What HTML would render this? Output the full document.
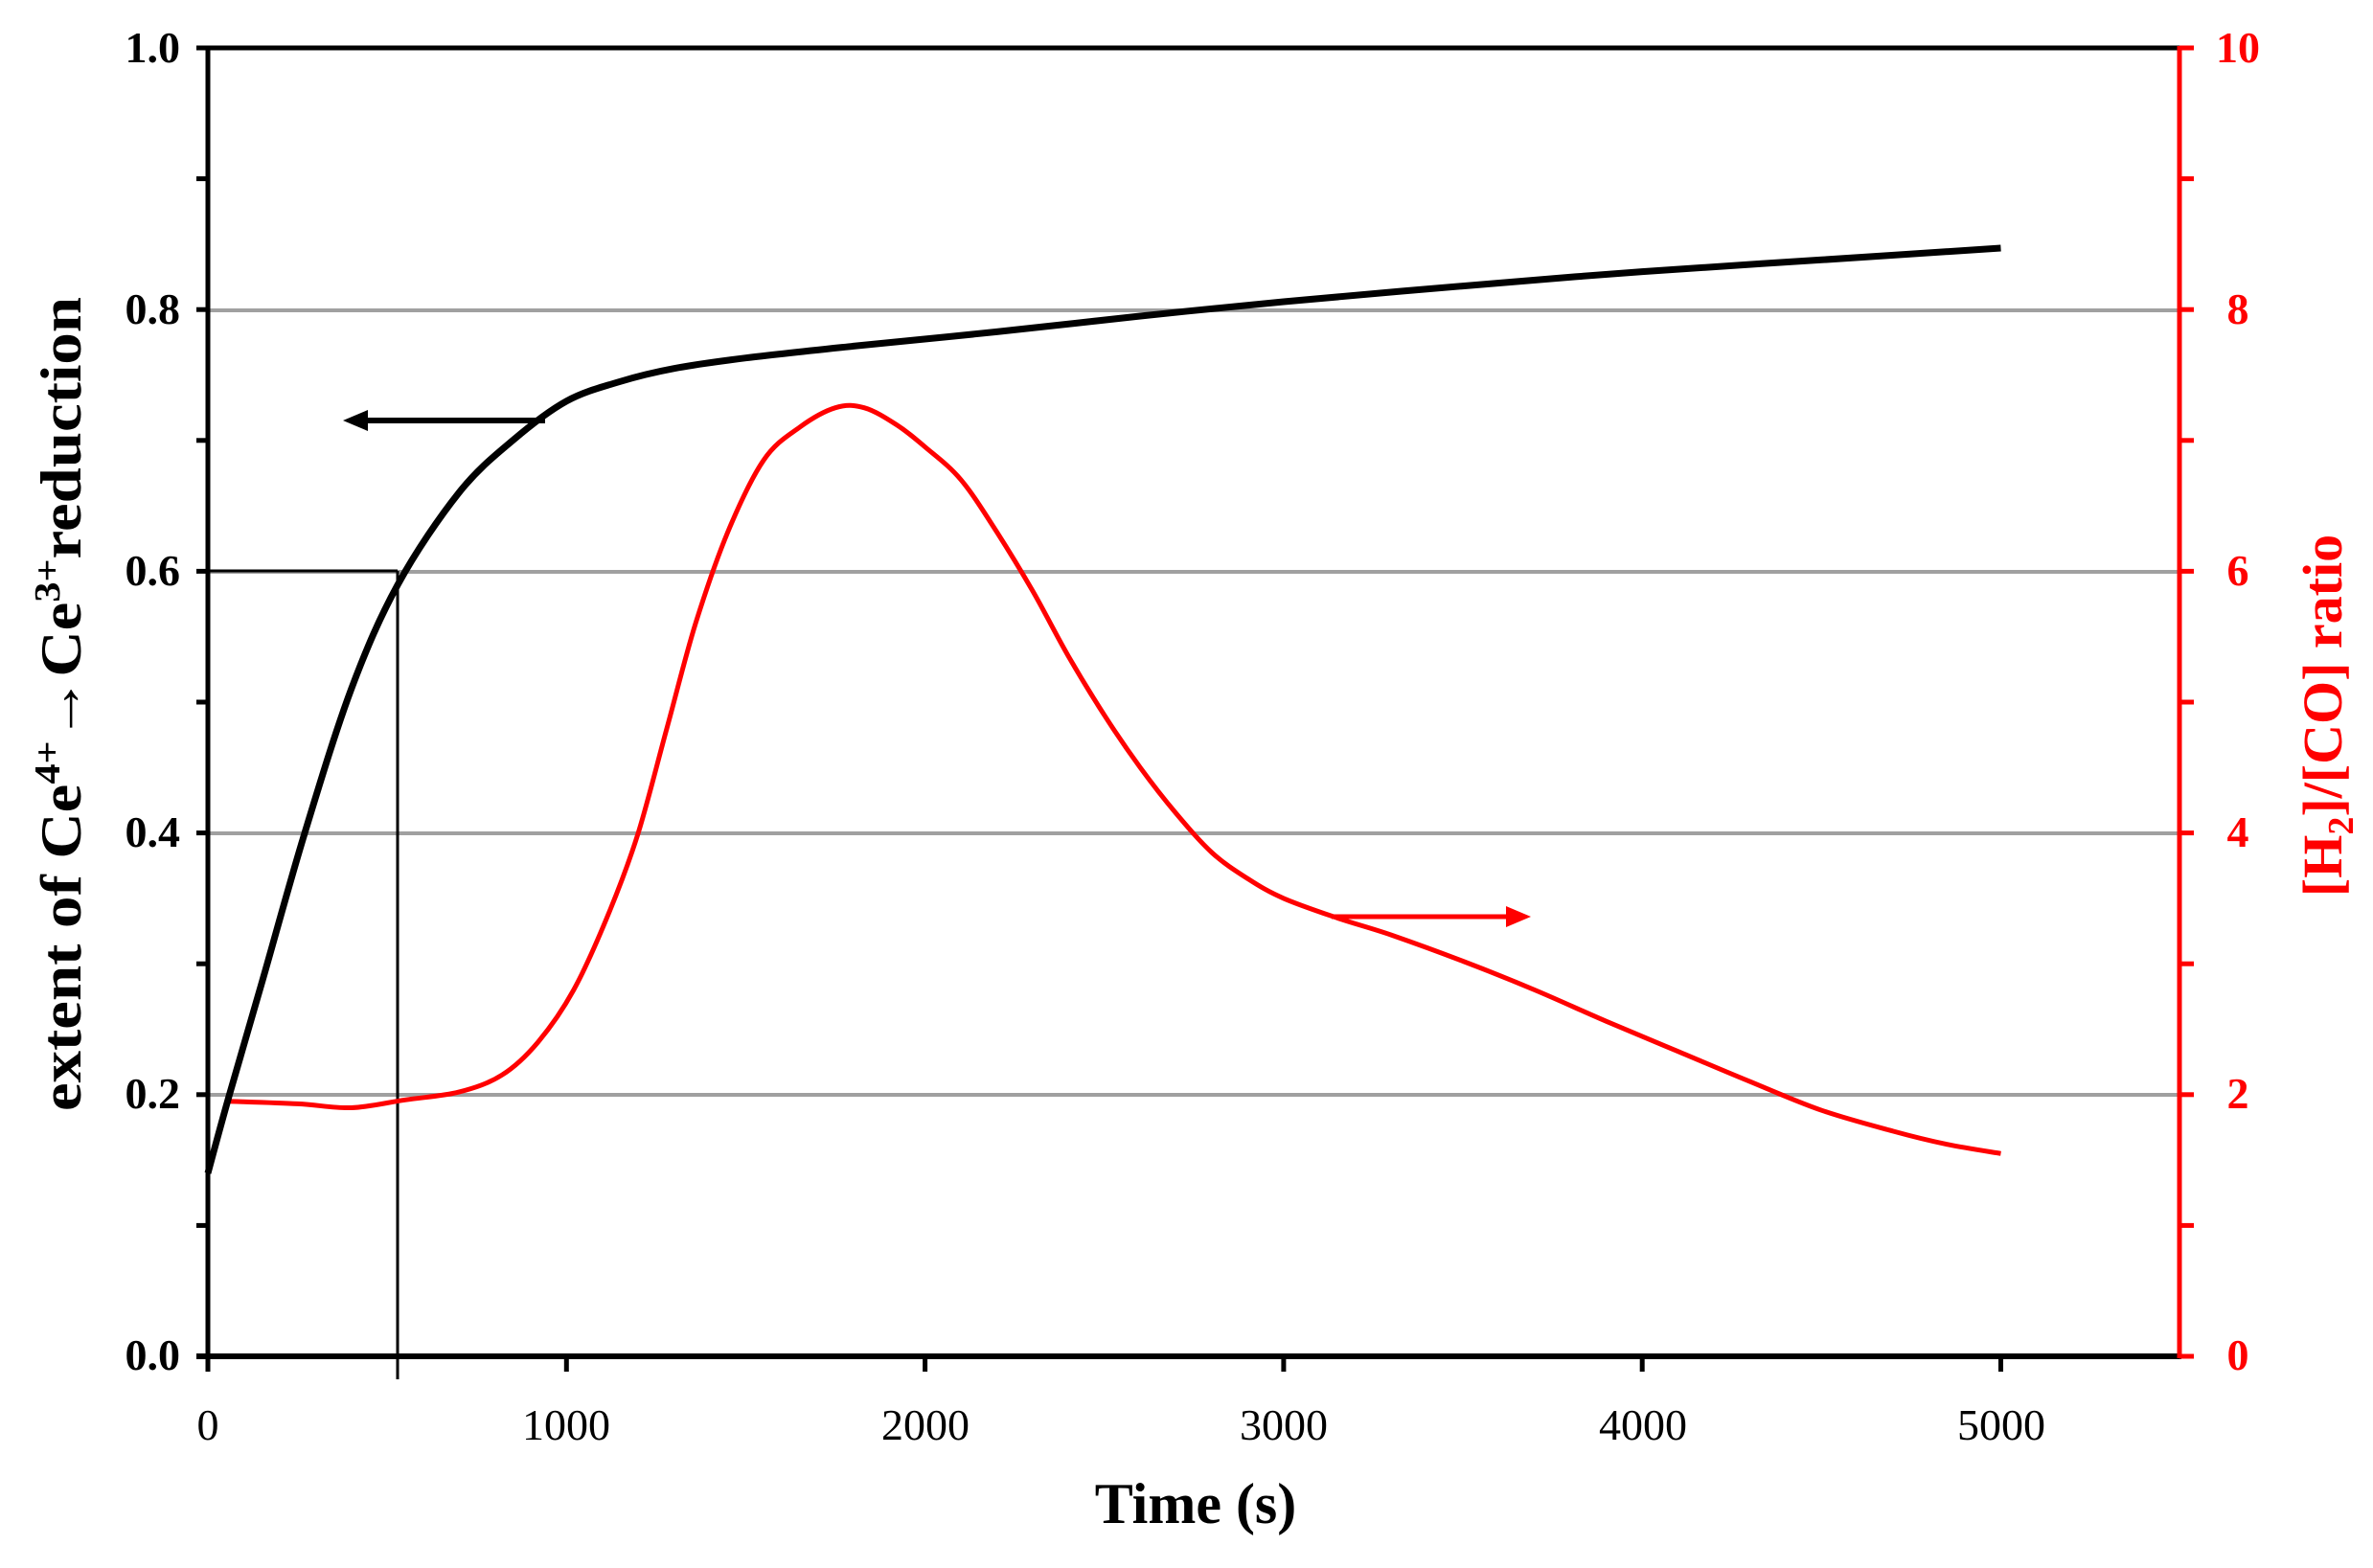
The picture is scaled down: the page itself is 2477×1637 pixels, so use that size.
<!DOCTYPE html>
<html><head><meta charset="utf-8"><style>
html,body{margin:0;padding:0;background:#fff;}
svg{display:block;}
text{font-family:"Liberation Serif",serif;}
</style></head><body>
<svg id="s" width="2477" height="1637" viewBox="0 0 2477 1637" xmlns="http://www.w3.org/2000/svg">
<rect width="2477" height="1637" fill="#fff"/>
<g stroke="#a0a0a0" stroke-width="4">
<line x1="217" y1="324" x2="2275" y2="324"/>
<line x1="217" y1="597" x2="2275" y2="597"/>
<line x1="217" y1="870" x2="2275" y2="870"/>
<line x1="217" y1="1143" x2="2275" y2="1143"/>
</g>
<line x1="217" y1="50" x2="2275" y2="50" stroke="#000" stroke-width="5"/>
<line x1="217" y1="596" x2="415" y2="596" stroke="#000" stroke-width="3"/>
<line x1="415" y1="596" x2="415" y2="1440" stroke="#000" stroke-width="3"/>
<path id="red" fill="none" stroke="#ff0000" stroke-width="5"/>
<path id="blk" fill="none" stroke="#000" stroke-width="7"/>
<line x1="217" y1="48" x2="217" y2="1418" stroke="#000" stroke-width="5"/>
<line x1="205" y1="1416" x2="2277" y2="1416" stroke="#000" stroke-width="6"/>
<line x1="2275" y1="48" x2="2275" y2="1418" stroke="#ff0000" stroke-width="5"/>
<g id="ticks"></g>
<g font-size="46" fill="#000" text-anchor="end" font-weight="bold">
<text x="188" y="65">1.0</text><text x="188" y="338">0.8</text><text x="188" y="611">0.6</text>
<text x="188" y="884">0.4</text><text x="188" y="1157">0.2</text><text x="188" y="1430">0.0</text>
</g>
<g font-size="46" fill="#000" text-anchor="middle">
<text x="217" y="1503">0</text><text x="591" y="1503">1000</text><text x="966" y="1503">2000</text>
<text x="1340" y="1503">3000</text><text x="1715" y="1503">4000</text><text x="2089" y="1503">5000</text>
</g>
<g font-size="46" fill="#ff0000" text-anchor="middle" font-weight="bold">
<text x="2336" y="1430">0</text><text x="2336" y="1157">2</text><text x="2336" y="884">4</text>
<text x="2336" y="611">6</text><text x="2336" y="338">8</text><text x="2336" y="65">10</text>
</g>
<text x="1248" y="1590" font-size="60" font-weight="bold" text-anchor="middle">Time (s)</text>
<text transform="translate(84,735) rotate(-90)" font-size="60" font-weight="bold" text-anchor="middle" textLength="850" lengthAdjust="spacingAndGlyphs">extent of Ce<tspan font-size="38" dy="-22">4+</tspan><tspan dy="22">→Ce</tspan><tspan font-size="38" dy="-22">3+</tspan><tspan dy="22">reduction</tspan></text>
<text transform="translate(2444,747) rotate(-90)" font-size="58" font-weight="bold" fill="#ff0000" text-anchor="middle">[H<tspan font-size="38" dy="12">2</tspan><tspan dy="-12">]/[CO] ratio</tspan></text>
<line x1="569" y1="439" x2="375" y2="439" stroke="#000" stroke-width="6"/>
<polygon points="358,439 384,428 384,450" fill="#000"/>
<line x1="1390" y1="957" x2="1580" y2="957" stroke="#ff0000" stroke-width="5"/>
<polygon points="1598,957 1572,946 1572,968" fill="#ff0000"/>
</svg>
<script>
function X(t){return 217+t*0.3743;}
function YL(v){return 1416-v*1366;}
function YR(v){return 1416-v*136.6;}
function cr(pts){
  var d="M"+pts[0][0].toFixed(1)+","+pts[0][1].toFixed(1);
  for(var i=0;i<pts.length-1;i++){
    var p0=pts[i-1]||pts[i],p1=pts[i],p2=pts[i+1],p3=pts[i+2]||p2;
    d+=" C"+(p1[0]+(p2[0]-p0[0])/6).toFixed(1)+","+(p1[1]+(p2[1]-p0[1])/6).toFixed(1)+" "+
      (p2[0]-(p3[0]-p1[0])/6).toFixed(1)+","+(p2[1]-(p3[1]-p1[1])/6).toFixed(1)+" "+p2[0].toFixed(1)+","+p2[1].toFixed(1);
  }
  return d;
}
var b=[[0,0.14],[60,0.2],[150,0.285],[270,0.4],[400,0.51],[530,0.59],[700,0.66],[850,0.7],[1000,0.73],[1150,0.745],[1300,0.755],[1500,0.763],[1800,0.772],[2200,0.783],[2600,0.795],[3000,0.806],[3500,0.818],[4000,0.829],[4500,0.838],[5000,0.847]];
var r=[[50,1.95],[250,1.93],[400,1.9],[550,1.96],[700,2.02],[820,2.15],[920,2.4],[1020,2.8],[1120,3.4],[1200,4.0],[1280,4.8],[1360,5.6],[1450,6.3],[1550,6.85],[1650,7.1],[1750,7.25],[1830,7.25],[1920,7.12],[2000,6.95],[2100,6.7],[2200,6.3],[2300,5.85],[2400,5.35],[2500,4.9],[2600,4.5],[2700,4.15],[2800,3.85],[2900,3.65],[3000,3.5],[3150,3.35],[3300,3.22],[3500,3.02],[3700,2.8],[3900,2.56],[4100,2.33],[4300,2.1],[4500,1.88],[4700,1.72],[4850,1.62],[5000,1.55]];
document.getElementById('blk').setAttribute('d',cr(b.map(function(p){return [X(p[0]),YL(p[1])];})));
document.getElementById('red').setAttribute('d',cr(r.map(function(p){return [X(p[0]),YR(p[1])];})));
var g=document.getElementById('ticks'),s='';
for(var i=0;i<=10;i++){var y=1416-i*136.6;s+='<line x1="205" y1="'+y+'" x2="217" y2="'+y+'" stroke="#000" stroke-width="5"/>';
 s+='<line x1="2275" y1="'+y+'" x2="2290" y2="'+y+'" stroke="#ff0000" stroke-width="5"/>';}
for(var k=0;k<=5;k++){var x=X(k*1000);s+='<line x1="'+x+'" y1="1416" x2="'+x+'" y2="1432" stroke="#000" stroke-width="5"/>';}
g.innerHTML=s;
</script>
</body></html>
